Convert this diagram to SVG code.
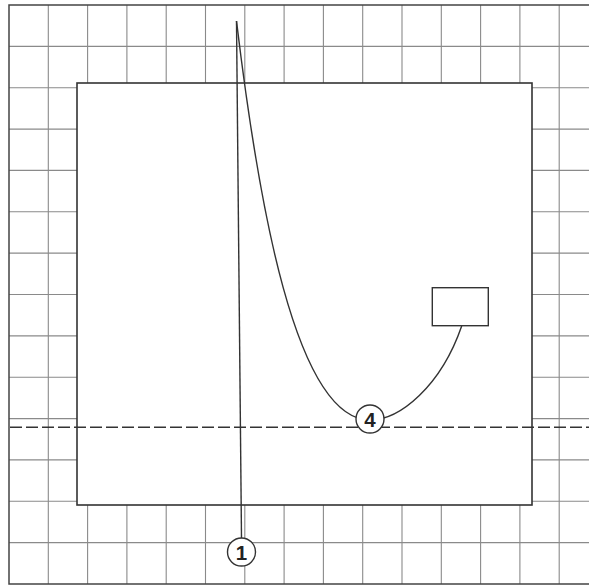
<svg xmlns="http://www.w3.org/2000/svg" width="589" height="585" viewBox="0 0 589 585">
<style>
.grid{stroke:#8a8a8a;stroke-width:1.1;fill:none}
.frame{stroke:#444;stroke-width:1.5;fill:none}
.sheet{fill:#fff;stroke:#333;stroke-width:1.6}
.line{stroke:#333;stroke-width:1.4;fill:none}
.dash{stroke:#333;stroke-width:1.4;fill:none;stroke-dasharray:12 4}
.tag{fill:#fff;stroke:#333;stroke-width:1.4}
</style>
<rect width="589" height="585" fill="#fff"/>
<g id="grid">
<path class="grid" d="M48.3 5V584M87.6 5V584M126.9 5V584M166.2 5V584M205.5 5V584M244.8 5V584M284.1 5V584M323.4 5V584M362.7 5V584M402 5V584M441.3 5V584M480.6 5V584M519.9 5V584M559.2 5V584"/>
<path class="grid" d="M9 46.4H589M9 87.7H589M9 129.1H589M9 170.4H589M9 211.8H589M9 253.1H589M9 294.5H589M9 335.9H589M9 377.2H589M9 418.6H589M9 459.9H589M9 501.3H589M9 542.6H589"/>
<path class="frame" d="M589 5H9V584H589"/>
</g>
<g id="sheet">
<rect class="sheet" x="77" y="83" width="455" height="422"/>
</g>
<g id="connectors">
<path class="dash" d="M10 427.3H589"/>
<path class="line" d="M236.5 21L241.5 538"/>
<path class="line" d="M236.5 21C258 200 295 420 370 420C400 420 441 386 461.7 326"/>
</g>
<g id="box">
<rect class="line" x="432.3" y="287.7" width="56" height="38"/>
</g>
<g id="node1">
<circle class="tag" cx="241.5" cy="552" r="14"/>
<text x="241.5" y="559.5" font-family="Liberation Sans, Arial, sans-serif" font-size="20.5" font-weight="700" fill="#222" text-anchor="middle">1</text>
</g>
<g id="node4">
<circle class="tag" cx="370" cy="419" r="14"/>
<text x="370" y="426.5" font-family="Liberation Sans, Arial, sans-serif" font-size="20.5" font-weight="700" fill="#222" text-anchor="middle">4</text>
</g>
</svg>
